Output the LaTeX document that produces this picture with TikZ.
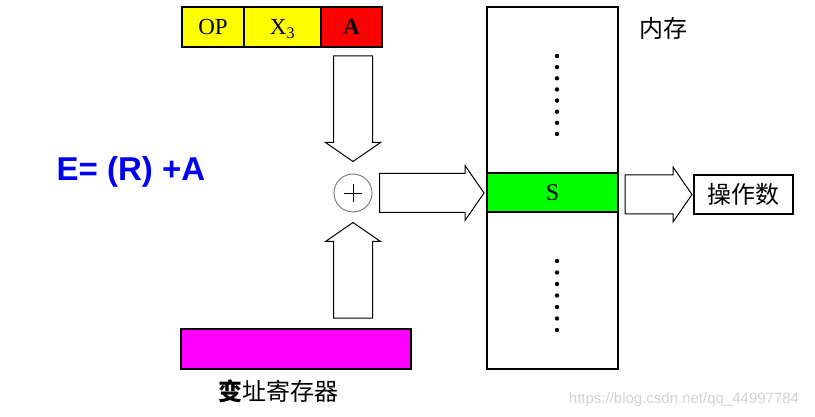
\documentclass[tikz,border=0pt]{standalone}
\usepackage{fontspec}
\setmainfont{Liberation Serif}
\newfontfamily\cjk{Noto Sans CJK SC}
\newfontfamily\arial{Liberation Sans}
\usetikzlibrary{calc,positioning}
\definecolor{cellyellow}{RGB}{255,255,0}
\definecolor{cellred}{RGB}{255,0,0}
\definecolor{cellgreen}{RGB}{0,255,0}
\definecolor{regmagenta}{RGB}{255,0,255}
\definecolor{eqblue}{RGB}{0,0,240}
\tikzset{
    cell/.style = {
        draw,
        line width=1.2pt,
        inner sep=0pt,
        outer sep=0pt,
        minimum height=40pt,
        text height=17pt,
        text depth=2pt,
        font=\fontsize{23}{25}\selectfont,
        },
    box/.style = {
        draw,
        line width=1.2pt,
        inner sep=0pt,
        outer sep=0pt,
        },
    adder/.style = {
        draw=gray,
        line width=1pt,
        minimum size=38pt,
        inner sep=0pt,
        },
    fat/.style = {
        draw,
        fill=white,
        line width=1pt,
        line join=miter,
        },
    cn/.style = {
        font=\cjk\fontsize{24}{26}\selectfont,
        },
    dot/.style = {
        fill=black,
        },
}
\newcommand\blockarrow[2]{%
    \coordinate (tl) at #1;
    \coordinate (tp) at #2;
    \coordinate (hb) at ($(tp)!19pt!(tl)$);
    \draw[fat] ($(tl)!19.5pt!90:(tp)$) -- ($(hb)!19.5pt!-90:(tl)$)
        -- ($(hb)!27.5pt!-90:(tl)$) -- (tp) -- ($(hb)!27.5pt!90:(tl)$)
        -- ($(hb)!19.5pt!90:(tl)$) -- ($(tl)!19.5pt!-90:(tp)$) -- cycle;}
\begin{document}
\begin{tikzpicture}[x=1pt, y=-1pt]
    \useasboundingbox (0,0) rectangle (815,417);

    % instruction
    \node[cell, fill=cellyellow, minimum width=62pt, anchor=north west] (op) at (182,7) {OP};
    \node[cell, fill=cellyellow, minimum width=77pt, right=0pt of op] (x3) {X\textsubscript{3}};
    \node[cell, fill=cellred, minimum width=61pt, right=0pt of x3] (a) {\textbf{A}};

    % adder
    \node[circle, adder] (add) at (353,193) {};
    \draw[line width=0.8pt] ([xshift=-9pt]add.center) -- ([xshift=9pt]add.center);
    \draw[line width=0.8pt] ([yshift=-9pt]add.center) -- ([yshift=9pt]add.center);

    % memory
    \node[box, minimum width=131pt, minimum height=362pt, anchor=north west] (mem) at (487,7) {};
    \node[box, fill=cellgreen, minimum width=131pt, minimum height=39pt, anchor=west,
          font=\fontsize{24}{26}\selectfont] (s) at (487,192.5) {S};
    \foreach \i in {0,...,7}
        \fill[dot] (557,56+11.14*\i) circle (2.2pt);
    \foreach \i in {0,...,6}
        \fill[dot] (557,261+11.5*\i) circle (2.2pt);
    \node[cn] (memlabel) at (663,28) {内存};

    % operand
    \node[box, cn, minimum width=99pt, minimum height=39pt] (num) at (743.5,194.5) {操作数};

    % index register
    \node[cell, fill=regmagenta, minimum width=230pt, anchor=north west] (reg) at (181,329) {};
    \node[cn] (reglabel) at (278,391) {{\bfseries 变}址寄存器};

    \node[font=\arial\bfseries\fontsize{33}{36}\selectfont, text=eqblue] (eq) at (131,172) {E= (R) +A};

    % arrows
    \blockarrow{($(add |- a.south)+(0,9)$)}{($(add.north)+(0,-12)$)}
    \blockarrow{($(add |- reg.north)+(0,-11)$)}{($(add.south)+(0,10)$)}
    \blockarrow{($(add.east)+(7,0)$)}{($(add -| mem.west)+(-3,0)$)}
    \blockarrow{($(num.west -| s.east)+(7,0)$)}{($(num.west)+(-2,0)$)}

    \node[font=\arial\fontsize{15}{17}\selectfont, text=gray!35] (mark) at (684,400) {https://blog.csdn.net/qq\_44997784};
\end{tikzpicture}
\end{document}
